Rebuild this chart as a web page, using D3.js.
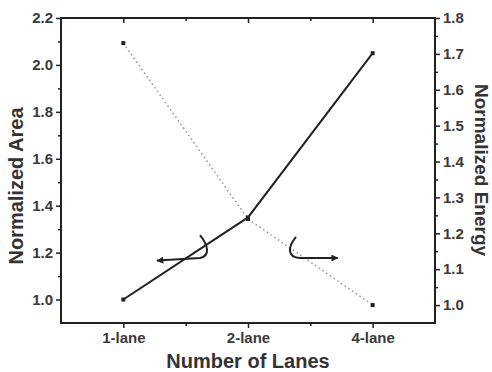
<!DOCTYPE html>
<html><head><meta charset="utf-8">
<script src="https://cdn.jsdelivr.net/npm/d3@7"></script>
<style>body{margin:0;background:#fff;} text{font-family:"Liberation Sans",Arial,sans-serif;font-weight:bold;}</style>
</head><body>
<svg id="c" width="492" height="372"></svg>
<script>
const categories = ["1-lane","2-lane","4-lane"];
const areaValues = [1.0, 1.35, 2.05];
const energyValues = [1.73, 1.24, 1.0];
const leftTicks = [1.0,1.2,1.4,1.6,1.8,2.0,2.2];
const rightTicks = [1.0,1.1,1.2,1.3,1.4,1.5,1.6,1.7,1.8];

const svg = d3.select("#c");
const L=61,R=435,T=18,B=323;
const x = d3.scaleLinear().domain([-0.5,2.5]).range([L,R]);
const yL = d3.scaleLinear().domain([0.9,2.2]).range([B,T]);
const yR = d3.scaleLinear().domain([0.95,1.8]).range([B,T]);
const ink="#222", txt="#3a3a3a";

// frame
svg.append("rect").attr("x",L).attr("y",T).attr("width",R-L).attr("height",B-T)
  .attr("fill","none").attr("stroke",ink).attr("stroke-width",2);

// left axis
const gL = svg.append("g").attr("transform",`translate(${L},0)`)
  .call(d3.axisLeft(yL).tickValues(leftTicks).tickFormat(d3.format(".1f")).tickSize(5).tickPadding(3));
const gLm = svg.append("g").attr("transform",`translate(${L},0)`)
  .call(d3.axisLeft(yL).tickValues(d3.range(1.1,2.2,0.2)).tickFormat("").tickSize(3));
// right axis
const gR = svg.append("g").attr("transform",`translate(${R},0)`)
  .call(d3.axisRight(yR).tickValues(rightTicks).tickFormat(d3.format(".1f")).tickSize(5).tickPadding(3));
const gRm = svg.append("g").attr("transform",`translate(${R},0)`)
  .call(d3.axisRight(yR).tickValues(d3.range(1.05,1.8,0.1)).tickFormat("").tickSize(3));
// bottom axis
const gB = svg.append("g").attr("transform",`translate(0,${B})`)
  .call(d3.axisBottom(x).tickValues([0,1,2]).tickFormat(i=>categories[i]).tickSize(5).tickPadding(4));
const gBm = svg.append("g").attr("transform",`translate(0,${B})`)
  .call(d3.axisBottom(x).tickValues([0.5,1.5]).tickFormat("").tickSize(3));
// top axis (inward ticks)
const gT = svg.append("g").attr("transform",`translate(0,${T})`)
  .call(d3.axisBottom(x).tickValues([0,1,2]).tickFormat("").tickSize(5));
const gTm = svg.append("g").attr("transform",`translate(0,${T})`)
  .call(d3.axisBottom(x).tickValues([0.5,1.5]).tickFormat("").tickSize(3));

[gL,gLm,gR,gRm,gB,gBm,gT,gTm].forEach(g=>{
  g.select(".domain").remove();
  g.selectAll("line").attr("stroke",ink).attr("stroke-width",1.5);
  g.selectAll("text").attr("fill",txt).style("font-size","15px").style("font-weight","bold");
});

// energy dotted line
const lineE = d3.line().x((d,i)=>x(i)).y(d=>yR(d));
svg.append("path").datum(energyValues).attr("d",lineE)
  .attr("fill","none").attr("stroke","#9a9a9a").attr("stroke-width",1.6).attr("stroke-dasharray","1.5,3");
// area solid line
const lineA = d3.line().x((d,i)=>x(i)).y(d=>yL(d));
svg.append("path").datum(areaValues).attr("d",lineA)
  .attr("fill","none").attr("stroke",ink).attr("stroke-width",2);

// markers
svg.selectAll(".ma").data(areaValues).join("rect")
  .attr("x",(d,i)=>x(i)-2).attr("y",d=>yL(d)-2).attr("width",4).attr("height",4).attr("fill",ink);
svg.selectAll(".me").data(energyValues).join("rect")
  .attr("x",(d,i)=>x(i)-2).attr("y",d=>yR(d)-2).attr("width",4).attr("height",4).attr("fill",ink);

// arrowheads
const defs = svg.append("defs");
defs.append("marker").attr("id","ah").attr("viewBox","0 0 10 10").attr("refX",9).attr("refY",5)
  .attr("markerWidth",4.5).attr("markerHeight",3.5).attr("orient","auto-start-reverse").attr("markerUnits","strokeWidth")
  .append("path").attr("d","M0,0 L10,5 L0,10 Z").attr("fill",ink);

// annotation arrows (placed in data coordinates of their axes)
const pL = d3.path();
pL.moveTo(x(0.615),yL(1.275));
pL.bezierCurveTo(x(0.68),yL(1.232), x(0.70),yL(1.186), x(0.615),yL(1.177));
pL.lineTo(x(0.27),yL(1.166));
svg.append("path").attr("d",pL.toString()).attr("fill","none").attr("stroke",ink)
  .attr("stroke-width",2).attr("marker-end","url(#ah)");

const pR = d3.path();
pR.moveTo(x(1.385),yR(1.19));
pR.bezierCurveTo(x(1.32),yR(1.162), x(1.31),yR(1.134), x(1.417),yR(1.131));
pR.lineTo(x(1.72),yR(1.131));
svg.append("path").attr("d",pR.toString()).attr("fill","none").attr("stroke",ink)
  .attr("stroke-width",2).attr("marker-end","url(#ah)");

// titles
svg.append("text").attr("transform","translate(23,186) rotate(-90)").attr("text-anchor","middle")
  .attr("fill","#333").style("font-size","20px").text("Normalized Area");
svg.append("text").attr("transform","translate(475,170) rotate(90)").attr("text-anchor","middle")
  .attr("fill","#333").style("font-size","19px").text("Normalized Energy");
svg.append("text").attr("x",248).attr("y",368).attr("text-anchor","middle")
  .attr("fill","#333").style("font-size","20px").text("Number of Lanes");
</script>
</body></html>
